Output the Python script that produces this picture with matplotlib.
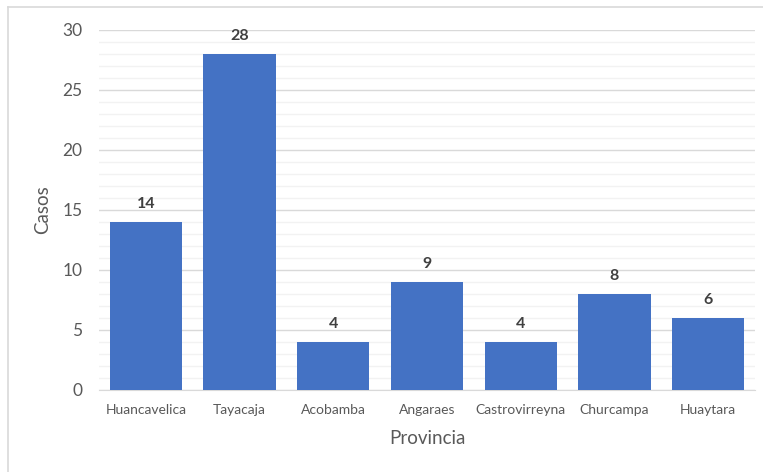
import matplotlib
matplotlib.use("Agg")
import matplotlib.pyplot as plt
from matplotlib.lines import Line2D

provincias = ["Huancavelica", "Tayacaja", "Acobamba", "Angaraes",
              "Castrovirreyna", "Churcampa", "Huaytara"]
casos = [14, 28, 4, 9, 4, 8, 6]
yticks = [0, 5, 10, 15, 20, 25, 30]

plt.rcParams['font.family'] = ['Lato', 'DejaVu Sans']

W, H = 763, 472
fig = plt.figure(figsize=(W / 100, H / 100), dpi=100)
ax = fig.add_axes([99 / W, 82 / H, 656 / W, 360 / H])

x = range(len(provincias))
bars = ax.bar(x, casos, width=0.77, color="#4472C4", zorder=3)

for xi, v in zip(x, casos):
    ax.text(xi, v + 0.9, str(v), ha="center", va="bottom",
            fontsize=11.5, fontweight="bold", color="#404040")

ax.set_xlim(-0.5, len(provincias) - 0.5)
ax.set_ylim(0, 30)
ax.set_yticks(yticks)
ax.set_yticks(range(0, 31), minor=True)
ax.set_xticks(list(x))
ax.set_xticklabels(provincias, fontsize=10, color="#595959")
ax.tick_params(axis="y", labelsize=12.5, colors="#595959", length=0, pad=12)
ax.tick_params(axis="y", which="minor", length=0)
ax.tick_params(axis="x", length=0, pad=10)

ax.grid(axis="y", which="major", color="#D9D9D9", linewidth=1, zorder=0)
ax.grid(axis="y", which="minor", color="#F2F2F2", linewidth=1, zorder=0)
for s in ["top", "right", "left"]:
    ax.spines[s].set_visible(False)
ax.spines["bottom"].set_color("#D9D9D9")

ax.set_xlabel("Provincia", fontsize=13.5, color="#595959", labelpad=10)
ax.set_ylabel("Casos", fontsize=13.5, color="#595959", labelpad=8)

# chart area border (top and left visible)
fig.add_artist(Line2D([8 / W, 1], [1 - 7 / H, 1 - 7 / H], transform=fig.transFigure,
                      color="#D9D9D9", linewidth=1.2))
fig.add_artist(Line2D([8 / W, 8 / W], [0, 1 - 7 / H], transform=fig.transFigure,
                      color="#D9D9D9", linewidth=1.2))

fig.savefig("out.png", dpi=100)
